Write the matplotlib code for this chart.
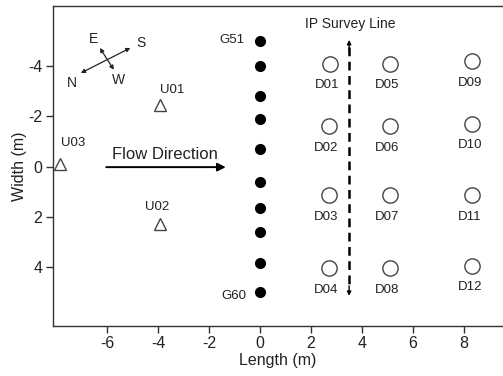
import matplotlib.pyplot as plt

plt.rcParams['font.family'] = ['Liberation Sans', 'DejaVu Sans']
plt.rcParams['axes.unicode_minus'] = False

# monitoring wells G51..G60 along x = 0
g_names = ['G51', 'G52', 'G53', 'G54', 'G55', 'G56', 'G57', 'G58', 'G59', 'G60']
g_x = [0, 0, 0, 0, 0, 0, 0, 0, 0, 0]
g_y = [-5.0, -4.0, -2.8, -1.9, -0.7, 0.6, 1.65, 2.6, 3.85, 5.0]

# downstream wells D01..D12
d_names = ['D01', 'D02', 'D03', 'D04', 'D05', 'D06', 'D07', 'D08',
           'D09', 'D10', 'D11', 'D12']
d_x = [2.75, 2.7, 2.7, 2.7, 5.1, 5.1, 5.1, 5.1, 8.35, 8.35, 8.35, 8.35]
d_y = [-4.1, -1.6, 1.15, 4.05, -4.1, -1.6, 1.15, 4.05, -4.2, -1.7, 1.15, 3.95]

# upstream wells
u_names = ['U01', 'U02', 'U03']
u_x = [-3.95, -3.95, -7.85]
u_y = [-2.45, 2.3, -0.1]

fig = plt.figure(figsize=(5.03, 3.76), dpi=100)
ax = fig.add_axes([0.105, 0.133, 0.895, 0.851])

dark = '#222222'
ax.plot(g_x, g_y, 'o', color='black', ms=7, zorder=3)
ax.plot(d_x, d_y, 'o', mfc='white', mec='#444444', mew=1.0, ms=11, zorder=3)
ax.plot(u_x, u_y, '^', mfc='white', mec='#444444', mew=1.0, ms=9, zorder=3)

fs = 9.5
for name, x, y in zip(d_names, d_x, d_y):
    ax.text(x - 0.1, y + 0.85, name, ha='center', va='center', fontsize=fs, color=dark)
ax.text(-1.1, -5.05, g_names[0], ha='center', va='center', fontsize=fs, color=dark)
ax.text(-1.05, 5.15, g_names[-1], ha='center', va='center', fontsize=fs, color=dark)
ax.text(-3.45, -3.05, u_names[0], ha='center', va='center', fontsize=fs, color=dark)
ax.text(-4.05, 1.6, u_names[1], ha='center', va='center', fontsize=fs, color=dark)
ax.text(-7.35, -0.95, u_names[2], ha='center', va='center', fontsize=fs, color=dark)

# flow direction arrow
ax.annotate('', xy=(-1.35, 0.02), xytext=(-6.05, 0.02),
            arrowprops=dict(arrowstyle='-|>', color='black', lw=1.4,
                            mutation_scale=12, shrinkA=0, shrinkB=0))
ax.text(-3.75, -0.5, 'Flow Direction', ha='center', va='center', fontsize=12, color=dark)

# IP survey line
ax.plot([3.5, 3.5], [-4.75, 4.85], color='black', lw=1.8, ls=(0, (3.5, 2.2)))
ax.annotate('', xy=(3.5, -5.05), xytext=(3.5, -4.6),
            arrowprops=dict(arrowstyle='-|>', color='black', lw=1.0,
                            mutation_scale=6, shrinkA=0, shrinkB=0))
ax.annotate('', xy=(3.5, 5.15), xytext=(3.5, 4.75),
            arrowprops=dict(arrowstyle='-|>', color='black', lw=1.0,
                            mutation_scale=6, shrinkA=0, shrinkB=0))
ax.text(3.55, -5.7, 'IP Survey Line', ha='center', va='center', fontsize=10, color=dark)

# compass
arrow_kw = dict(arrowstyle='<|-|>', color='#222222', lw=0.9,
                mutation_scale=6, shrinkA=0, shrinkB=0)
ax.annotate('', xy=(-7.05, -3.73), xytext=(-5.1, -4.73), arrowprops=arrow_kw)
ax.annotate('', xy=(-6.3, -4.73), xytext=(-5.75, -3.86), arrowprops=arrow_kw)
ax.text(-7.4, -3.35, 'N', ha='center', va='center', fontsize=10, color=dark)
ax.text(-4.7, -4.92, 'S', ha='center', va='center', fontsize=10, color=dark)
ax.text(-6.55, -5.1, 'E', ha='center', va='center', fontsize=10, color=dark)
ax.text(-5.55, -3.45, 'W', ha='center', va='center', fontsize=10, color=dark)

ax.set_xlim(-8.15, 9.55)
ax.set_ylim(6.35, -6.4)
ax.set_xticks([-6, -4, -2, 0, 2, 4, 6, 8])
ax.set_yticks([-4, -2, 0, 2, 4])
ax.set_xlabel('Length (m)', fontsize=11.5, color=dark, labelpad=1)
ax.set_ylabel('Width (m)', fontsize=11.5, color=dark, labelpad=1)
ax.tick_params(labelsize=11.5, length=5, width=1, pad=2.5,
               color='#333333', labelcolor=dark)
ax.spines['right'].set_visible(False)
for s in ['left', 'top', 'bottom']:
    ax.spines[s].set_color('#333333')
    ax.spines[s].set_linewidth(1.0)

fig.savefig('out.png', dpi=100)
